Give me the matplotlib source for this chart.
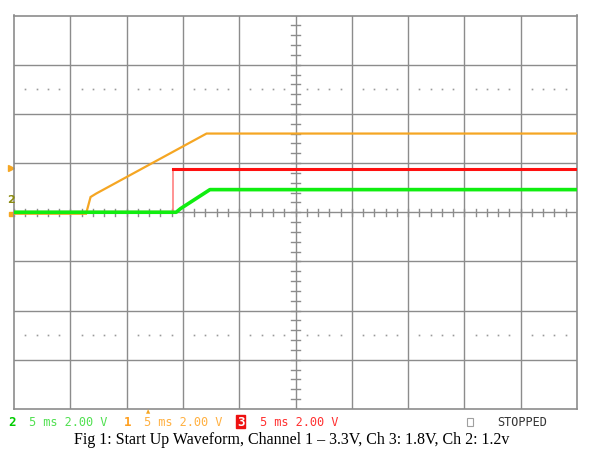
import numpy as np
import matplotlib.pyplot as plt
from matplotlib.patches import Rectangle
from matplotlib.transforms import blended_transform_factory

# scope settings: 5 ms/div, 2 V/div, 10 x 8 divisions
ms_per_div = 5
v_per_div = 2
n_xdiv = 10
n_ydiv = 8

# channel 1 (3.3V rail) - orange
ch1_t = [0, 6.4, 6.8, 7.3, 17.1, 50]
ch1_v = [-0.06, -0.06, 0.62, 0.76, 3.2, 3.2]

# channel 3 (1.8V rail) - red
ch3_t = [0, 14.1, 14.1, 50]
ch3_v = [0, 0, 1.74, 1.74]

# channel 2 (1.2V rail) - green
ch2_t = [0, 14.4, 14.8, 17.4, 50]
ch2_v = [0, 0, 0.15, 0.92, 0.92]

trig_level = 1.8

W, H = 605, 465
fig = plt.figure(figsize=(W / 100, H / 100), dpi=100)
ax = fig.add_axes([14 / W, 1 - 409 / H, 563 / W, 393.5 / H])

xmax = ms_per_div * n_xdiv
ymax = v_per_div * n_ydiv / 2
ax.set_xlim(0, xmax)
ax.set_ylim(-ymax, ymax)
ax.set_xticks([])
ax.set_yticks([])
for s in ax.spines.values():
    s.set_color('#8c8c8c')
    s.set_linewidth(1.2)

grid_c = '#8c8c8c'
# graticule
for i in range(1, n_xdiv):
    ax.axvline(i * ms_per_div, color=grid_c, lw=1, zorder=1)
for j in range(1, n_ydiv):
    ax.axhline(-ymax + j * v_per_div, color=grid_c, lw=1, zorder=1)

# minor ticks on center axes
xc = xmax / 2
for k in np.arange(-ymax, ymax + 0.01, v_per_div / 5):
    ax.plot([xc - 0.36, xc + 0.36], [k, k], color=grid_c, lw=1, zorder=1)
for k in np.arange(0, xmax + 0.01, ms_per_div / 5):
    ax.plot([k, k], [-0.14, 0.14], color=grid_c, lw=1, zorder=1)

# dotted rows
dot_x = [k for k in np.arange(0, xmax, ms_per_div / 5) if k % ms_per_div != 0]
for yy in (5, -5):
    ax.plot(dot_x, [yy] * len(dot_x), ls='none', marker='s', ms=1.2,
            color='#9a9a9a', mec='none', zorder=1)

# traces
ax.plot(ch1_t, ch1_v, color='#f5a623', lw=1.6, zorder=3, solid_joinstyle='miter')
ax.plot(ch3_t[:2], ch3_v[:2], color='#ff1010', lw=1.6, zorder=2)
ax.plot(ch3_t[1:3], ch3_v[1:3], color='#ff8080', lw=1.2, zorder=2)
ax.plot(ch3_t[2:], ch3_v[2:], color='#ff1010', lw=2.2, zorder=3)
ax.plot(ch2_t, ch2_v, color='#10ee10', lw=2.6, zorder=4)

# left-edge markers: trigger level and ground reference
bt = blended_transform_factory(fig.transFigure, ax.transData)
ax.plot([10.5 / W], [trig_level], marker='>', ms=5, color='#f5a623',
        transform=bt, clip_on=False)
ax.text(11 / W, 0.5, '2', transform=bt, fontsize=8, color='#8a8a10',
        ha='center', va='center', fontweight='bold', clip_on=False)
ax.plot([11 / W], [-0.06], marker='s', ms=3, color='#f5a623',
        transform=bt, clip_on=False)

# status line
mono = 'DejaVu Sans Mono'
ty = 1 - 422 / H
fig.text(8 / W, ty, '2', color='#00cc00', fontsize=9, family=mono,
         fontweight='bold', va='center')
fig.text(29 / W, ty, '5 ms 2.00 V', color='#50e050', fontsize=8.6, family=mono, va='center')
fig.text(124 / W, ty, '1', color='#ffa020', fontsize=9, family=mono,
         fontweight='bold', va='center')
fig.text(144 / W, ty, '5 ms 2.00 V', color='#ffb040', fontsize=8.6, family=mono, va='center')
fig.text(148 / W, 1 - 411.5 / H, '\u25b2', color='#f5a623', fontsize=4,
         ha='center', va='center')
fig.patches.append(Rectangle((236 / W, 1 - 428 / H), 9 / W, 13 / H,
                             transform=fig.transFigure, color='#ee1010'))
fig.text(240.5 / W, ty, '3', color='white', fontsize=9, family=mono,
         fontweight='bold', ha='center', va='center')
fig.text(260 / W, ty, '5 ms 2.00 V', color='#ff3030', fontsize=8.6, family=mono, va='center')
fig.patches.append(Rectangle((467 / W, 1 - 426 / H), 6 / W, 8 / H,
                             transform=fig.transFigure, fill=False,
                             ec='#a0a0a0', lw=0.8))
fig.text(497 / W, ty, 'STOPPED', color='#333333', fontsize=8.6, family=mono, va='center')

# caption
fig.text(292 / W, 1 - 444 / H, 'Fig 1: Start Up Waveform, Channel 1 \u2013 3.3V, Ch 3: 1.8V, Ch 2: 1.2v',
         family='Liberation Serif', fontsize=11.5, ha='center', va='baseline', color='black')

fig.savefig('out.png', dpi=100)
